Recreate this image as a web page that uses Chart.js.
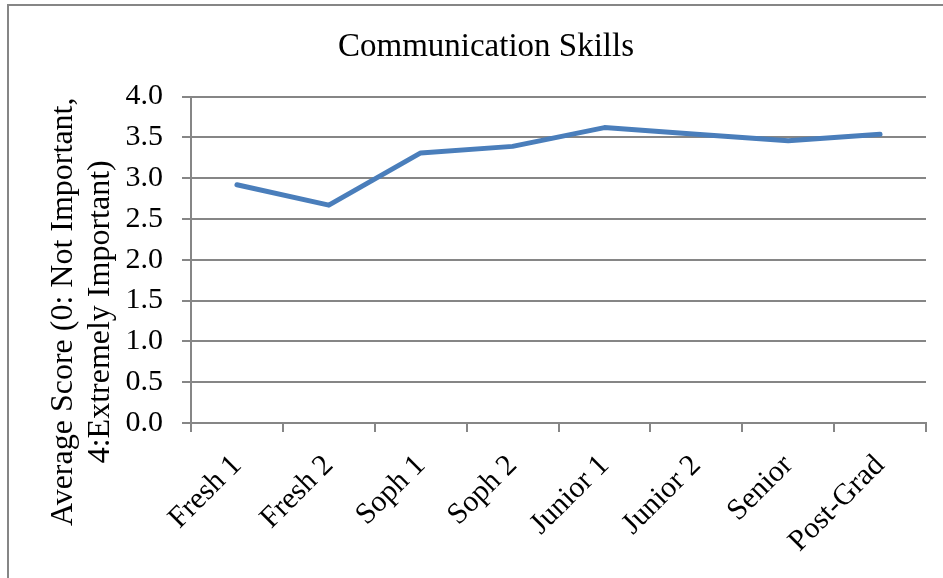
<!DOCTYPE html>
<html>
<head>
<meta charset="utf-8">
<script src="https://cdn.jsdelivr.net/npm/chart.js@4/dist/chart.umd.min.js"></script>
<style>
  body { margin: 0; background: #fff; }
  #frame {
    position: absolute; left: 7px; top: 4px; width: 960px; height: 600px;
    border-left: 2px solid #868686; border-top: 2px solid #868686;
  }
  #wrap { position: absolute; left: 0; top: 0; width: 943px; height: 578px; }
</style>
</head>
<body>
<div id="frame"></div>
<div id="wrap"><canvas id="chart"></canvas></div>
<script>
// chart data
const categories = ["Fresh 1", "Fresh 2", "Soph 1", "Soph 2", "Junior 1", "Junior 2", "Senior", "Post-Grad"];
const scores = [2.92, 2.67, 3.31, 3.39, 3.62, 3.54, 3.46, 3.54];
const yTitle = ["Average Score (0: Not Important,", "4:Extremely Important)"];

const gridColor = "#868686";
const serif = "'Liberation Serif', 'Times New Roman', serif";

Chart.defaults.font.family = serif;
Chart.defaults.color = "#000";

// y axis title, drawn a bit lower than the scale's own centre (like the original)
const yTitlePlugin = {
  id: "yTitlePlugin",
  afterDraw(chart) {
    const c = chart.ctx;
    const area = chart.chartArea;
    const lineH = 37;
    c.save();
    c.font = "32px " + serif;
    c.fillStyle = "#000";
    c.textAlign = "center";
    c.textBaseline = "middle";
    c.translate(64, area.top + (area.bottom - area.top) / 2 + 52);
    c.rotate(-Math.PI / 2);
    yTitle.forEach(function (line, i) {
      c.fillText(line, 0, i * lineH);
    });
    c.restore();
  }
};

const ctx = document.getElementById("chart");
new Chart(ctx, {
  type: "line",
  data: {
    labels: categories,
    datasets: [{
      data: scores,
      borderColor: "#4a7ebb",
      borderWidth: 5,
      pointRadius: 0,
      tension: 0,
      borderCapStyle: "round",
      borderJoinStyle: "round"
    }]
  },
  options: {
    responsive: true,
    maintainAspectRatio: false,
    animation: false,
    layout: { padding: { left: 46, right: 17, top: 0, bottom: 0 } },
    plugins: {
      legend: { display: false },
      tooltip: { enabled: false },
      title: {
        display: true,
        text: "Communication Skills",
        font: { size: 33, weight: "normal" },
        color: "#000",
        padding: { top: 28, bottom: 29 }
      }
    },
    scales: {
      x: {
        offset: true,
        grid: {
          offset: true,
          drawOnChartArea: false,
          drawTicks: true,
          tickLength: 9,
          color: gridColor,
          lineWidth: 2
        },
        border: { color: gridColor, width: 2 },
        ticks: {
          minRotation: 45,
          maxRotation: 45,
          padding: 16,
          font: { size: 30 },
          color: "#000"
        },
        afterFit: function (scale) { scale.height = 155; }
      },
      y: {
        min: 0,
        max: 4,
        ticks: {
          stepSize: 0.5,
          padding: 19,
          font: { size: 30 },
          color: "#000",
          callback: function (v) { return v.toFixed(1); }
        },
        grid: {
          color: gridColor,
          lineWidth: 2,
          tickLength: 9
        },
        border: { color: gridColor, width: 2 },
        afterFit: function (scale) { scale.width = 145; }
      }
    }
  },
  plugins: [yTitlePlugin]
});
</script>
</body>
</html>
